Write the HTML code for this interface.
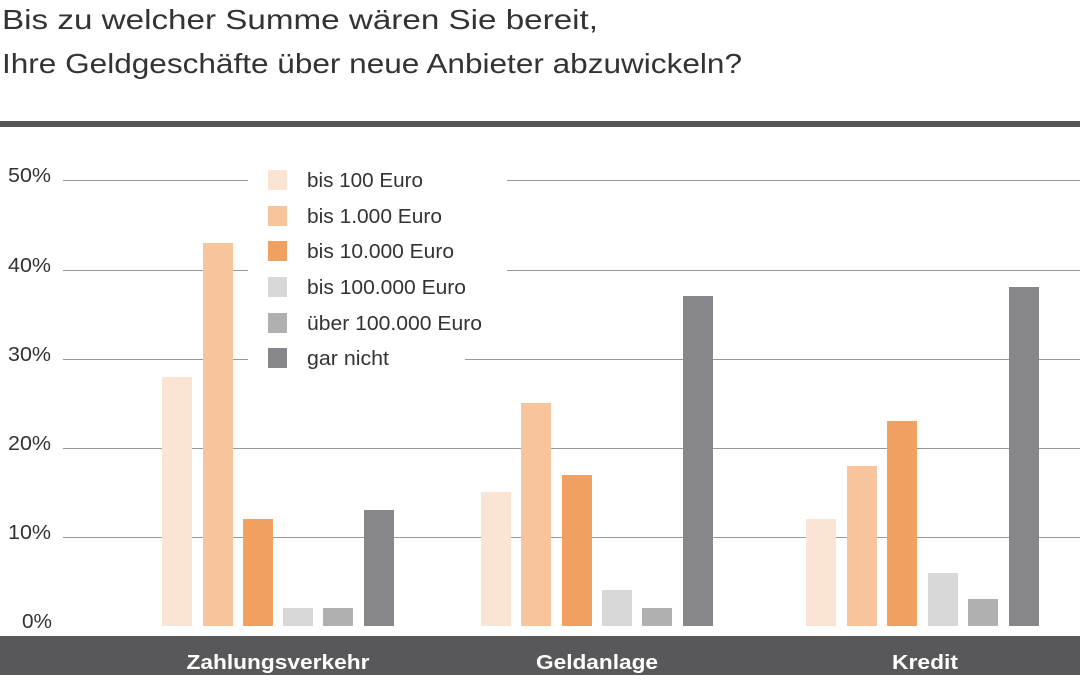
<!DOCTYPE html>
<html><head><meta charset="utf-8"><style>
body{margin:0;width:1080px;height:675px;overflow:hidden;background:#fff;font-family:"Liberation Sans",sans-serif;}
</style></head><body>
<svg width="1080" height="675" xmlns="http://www.w3.org/2000/svg" font-family="Liberation Sans, sans-serif">
<text x="2" y="29" font-size="28" fill="#333" textLength="596" lengthAdjust="spacingAndGlyphs">Bis zu welcher Summe wären Sie bereit,</text>
<text x="2" y="73" font-size="28" fill="#333" textLength="740" lengthAdjust="spacingAndGlyphs">Ihre Geldgeschäfte über neue Anbieter abzuwickeln?</text>
<rect x="0" y="121" width="1080" height="6" fill="#555"/>
<g stroke="#999" stroke-width="1">
<line x1="63" y1="180.5" x2="248" y2="180.5"/><line x1="507" y1="180.5" x2="1080" y2="180.5"/>
<line x1="63" y1="270.5" x2="248" y2="270.5"/><line x1="507" y1="270.5" x2="1080" y2="270.5"/>
<line x1="63" y1="359.5" x2="248" y2="359.5"/><line x1="465" y1="359.5" x2="1080" y2="359.5"/>
<line x1="63" y1="448.5" x2="1080" y2="448.5"/>
<line x1="63" y1="537.5" x2="1080" y2="537.5"/>
</g>
<g font-size="20" fill="#333">
<text x="8" y="182" textLength="43" lengthAdjust="spacingAndGlyphs">50%</text><text x="8" y="272" textLength="43" lengthAdjust="spacingAndGlyphs">40%</text><text x="8" y="361" textLength="43" lengthAdjust="spacingAndGlyphs">30%</text>
<text x="8" y="450" textLength="43" lengthAdjust="spacingAndGlyphs">20%</text><text x="8" y="539" textLength="43" lengthAdjust="spacingAndGlyphs">10%</text><text x="22" y="628" textLength="30" lengthAdjust="spacingAndGlyphs">0%</text>
</g>
<g>
<rect x="162" y="377" width="30" height="249" fill="#fce4d4"/>
<rect x="203" y="243" width="30" height="383" fill="#f8c49c"/>
<rect x="243" y="519" width="30" height="107" fill="#f0a060"/>
<rect x="283" y="608" width="30" height="18" fill="#d8d8d8"/>
<rect x="323" y="608" width="30" height="18" fill="#b0b0b0"/>
<rect x="364" y="510" width="30" height="116" fill="#87878b"/>
<rect x="481" y="492" width="30" height="134" fill="#fce4d4"/>
<rect x="521" y="403" width="30" height="223" fill="#f8c49c"/>
<rect x="562" y="475" width="30" height="151" fill="#f0a060"/>
<rect x="602" y="590" width="30" height="36" fill="#d8d8d8"/>
<rect x="642" y="608" width="30" height="18" fill="#b0b0b0"/>
<rect x="683" y="296" width="30" height="330" fill="#87878b"/>
<rect x="806" y="519" width="30" height="107" fill="#fce4d4"/>
<rect x="847" y="466" width="30" height="160" fill="#f8c49c"/>
<rect x="887" y="421" width="30" height="205" fill="#f0a060"/>
<rect x="928" y="573" width="30" height="53" fill="#d8d8d8"/>
<rect x="968" y="599" width="30" height="27" fill="#b0b0b0"/>
<rect x="1009" y="287" width="30" height="339" fill="#87878b"/>
</g>
<g font-size="20" fill="#333">
<rect x="268" y="170" width="19" height="20" fill="#fce4d4"/><text x="307" y="187" textLength="116" lengthAdjust="spacingAndGlyphs">bis 100 Euro</text>
<rect x="268" y="206" width="19" height="20" fill="#f8c49c"/><text x="307" y="223" textLength="135" lengthAdjust="spacingAndGlyphs">bis 1.000 Euro</text>
<rect x="268" y="241" width="19" height="20" fill="#f0a060"/><text x="307" y="258" textLength="147" lengthAdjust="spacingAndGlyphs">bis 10.000 Euro</text>
<rect x="268" y="277" width="19" height="20" fill="#d8d8d8"/><text x="307" y="294" textLength="159" lengthAdjust="spacingAndGlyphs">bis 100.000 Euro</text>
<rect x="268" y="313" width="19" height="20" fill="#b0b0b0"/><text x="307" y="330" textLength="175" lengthAdjust="spacingAndGlyphs">über 100.000 Euro</text>
<rect x="268" y="348" width="19" height="20" fill="#87878b"/><text x="307" y="365" textLength="82" lengthAdjust="spacingAndGlyphs">gar nicht</text>
</g>
<rect x="0" y="636" width="1080" height="39" fill="#58585a"/>
<g font-size="20" font-weight="bold" fill="#fff" text-anchor="middle">
<text x="278" y="669" textLength="183" lengthAdjust="spacingAndGlyphs">Zahlungsverkehr</text>
<text x="597" y="669" textLength="122" lengthAdjust="spacingAndGlyphs">Geldanlage</text>
<text x="925" y="669" textLength="66" lengthAdjust="spacingAndGlyphs">Kredit</text>
</g>
</svg>
</body></html>
